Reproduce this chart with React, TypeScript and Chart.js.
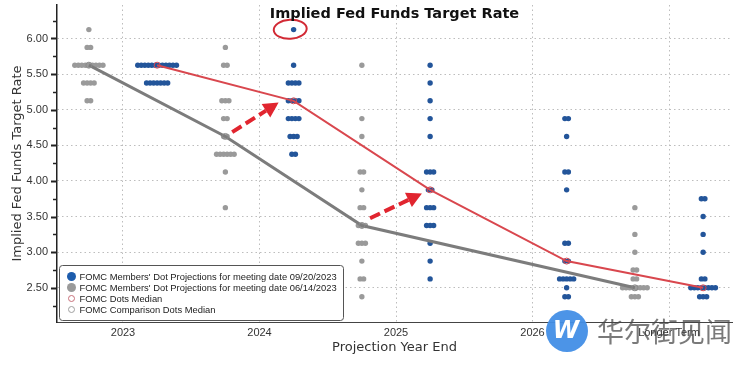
import React, { useEffect, useRef } from 'react';
import { Chart, registerables } from 'chart.js';

Chart.register(...registerables);

// ---------------- data ----------------
const TITLE = 'Implied Fed Funds Target Rate';
const Y_TITLE = 'Implied Fed Funds Target Rate';
const X_TITLE = 'Projection Year End';
const categories = ['2023', '2024', '2025', '2026', 'Longer Term'];
const yTickValues = [2.25, 2.5, 2.75, 3.0, 3.25, 3.5, 3.75, 4.0, 4.25, 4.5, 4.75, 5.0, 5.25, 5.5, 5.75, 6.0, 6.25];

// FOMC dots, meeting 09/20/2023 : [rate, number of participants]
const sep2023 = [[5.625, 12], [5.375, 7]];
const sep2024 = [[6.125, 1], [5.625, 1], [5.375, 4], [5.125, 4], [4.875, 4], [4.625, 3], [4.375, 2]];
const sep2025 = [[5.625, 1], [5.375, 1], [5.125, 1], [4.875, 1], [4.625, 1], [4.125, 3], [3.875, 2], [3.625, 3], [3.375, 3], [3.125, 1], [2.875, 1], [2.625, 1]];
const sep2026 = [[4.875, 2], [4.625, 1], [4.125, 2], [3.875, 1], [3.125, 2], [2.875, 2], [2.625, 5], [2.5, 1], [2.375, 2]];
const sepLonger = [[3.75, 2], [3.5, 1], [3.25, 1], [3.0, 1], [2.625, 2], [2.5, 8], [2.375, 3]];

// FOMC dots, meeting 06/14/2023
const jun2023 = [[6.125, 1], [5.875, 2], [5.625, 9], [5.375, 4], [5.125, 2]];
const jun2024 = [[5.875, 1], [5.625, 2], [5.125, 3], [4.875, 2], [4.625, 2], [4.375, 6], [4.125, 1], [3.625, 1]];
const jun2025 = [[5.625, 1], [4.875, 1], [4.625, 1], [4.125, 2], [3.875, 1], [3.625, 2], [3.375, 3], [3.125, 3], [2.875, 1], [2.625, 2], [2.375, 1]];
const jun2026: number[][] = [];
const junLonger = [[3.625, 1], [3.25, 1], [3.0, 1], [2.75, 2], [2.625, 2], [2.5, 8], [2.375, 3]];

const sepMedians = [5.625, 5.125, 3.875, 2.875, 2.5];
const junMedians = [5.625, 4.625, 3.375, null, 2.5];

// annotations drawn on the picture (data units): [x0, y0, x1, y1]
const arrowAnnotations = [
  [0.8, 4.685, 1.14, 5.1],
  [1.81, 3.476, 2.19, 3.825],
];
const circledDot = [1.225, 6.13];

const legendLabels = [
  "FOMC Members' Dot Projections for meeting date 09/20/2023",
  "FOMC Members' Dot Projections for meeting date 06/14/2023",
  'FOMC Dots Median',
  'FOMC Comparison Dots Median',
];
const WATERMARK = '华尔街见闻';

// ---------------- styles ----------------
const BLUE = '#23559a';
const GRAY_DOT = '#9a9a9a';
const RED = '#d9474e';
const GRAY_LINE = '#7c7c7c';
const GRID = '#bdbdbd';
const SHIFT = 0.25;
const DOT_STEP = 0.0258;

const sepGroups = [sep2023, sep2024, sep2025, sep2026, sepLonger];
const junGroups = [jun2023, jun2024, jun2025, jun2026, junLonger];

function dotPoints(groups: number[][][], shift: number) {
  const pts: { x: number; y: number }[] = [];
  groups.forEach((g, i) => {
    g.forEach(([rate, n]) => {
      for (let j = 0; j < n; j++) {
        pts.push({ x: i + shift + (j - (n - 1) / 2) * DOT_STEP, y: rate });
      }
    });
  });
  return pts;
}

function medianPoints(meds: (number | null)[], shift: number) {
  const pts: { x: number; y: number }[] = [];
  meds.forEach((v, i) => {
    if (v !== null) pts.push({ x: i + shift, y: v });
  });
  return pts;
}

const isMajor = (v: number) => Math.abs(v * 2 - Math.round(v * 2)) < 1e-6;

const yTickMarksPlugin = {
  id: 'yTickMarks',
  afterDraw(chart: any) {
    const { ctx, chartArea } = chart;
    const ys = chart.scales.y;
    ctx.save();
    ctx.strokeStyle = '#222';
    yTickValues.forEach((v) => {
      const y = Math.round(ys.getPixelForValue(v)) + 0.5;
      const major = isMajor(v);
      const len = major ? 6 : 4;
      ctx.lineWidth = major ? 2 : 1.5;
      ctx.beginPath();
      ctx.moveTo(chartArea.left - len, y);
      ctx.lineTo(chartArea.left, y);
      ctx.stroke();
    });
    ctx.restore();
  },
};

const annotationPlugin = {
  id: 'annotations',
  afterDatasetsDraw(chart: any) {
    const { ctx } = chart;
    const xs = chart.scales.x;
    const ys = chart.scales.y;
    ctx.save();
    ctx.strokeStyle = '#e1252f';
    ctx.fillStyle = '#e1252f';
    arrowAnnotations.forEach((a) => {
      const x0 = xs.getPixelForValue(a[0]);
      const y0 = ys.getPixelForValue(a[1]);
      const x1 = xs.getPixelForValue(a[2]);
      const y1 = ys.getPixelForValue(a[3]);
      const ang = Math.atan2(y1 - y0, x1 - x0);
      const headLen = 15;
      const headW = 8;
      const bx = x1 - headLen * Math.cos(ang);
      const by = y1 - headLen * Math.sin(ang);
      ctx.lineWidth = 4;
      ctx.setLineDash([11, 5]);
      ctx.beginPath();
      ctx.moveTo(x0, y0);
      ctx.lineTo(bx, by);
      ctx.stroke();
      ctx.setLineDash([]);
      ctx.beginPath();
      ctx.moveTo(x1, y1);
      ctx.lineTo(bx - headW * Math.sin(ang), by + headW * Math.cos(ang));
      ctx.lineTo(bx + headW * Math.sin(ang), by - headW * Math.cos(ang));
      ctx.closePath();
      ctx.fill();
    });
    // circled dot
    const cx = xs.getPixelForValue(circledDot[0]);
    const cy = ys.getPixelForValue(circledDot[1]);
    ctx.strokeStyle = '#d22a35';
    ctx.lineWidth = 2;
    ctx.beginPath();
    ctx.ellipse(cx, cy, 16.5, 9.5, -0.06, 0, Math.PI * 2);
    ctx.stroke();
    ctx.restore();
  },
};

const titlePlugin = {
  id: 'customTitle',
  afterDraw(chart: any) {
    const { ctx, chartArea } = chart;
    ctx.save();
    ctx.font = 'bold 14.5px "DejaVu Sans"';
    ctx.fillStyle = '#111';
    ctx.textAlign = 'center';
    ctx.textBaseline = 'alphabetic';
    ctx.fillText(TITLE, (chartArea.left + chartArea.right) / 2, 17.5);
    ctx.restore();
  },
};

const legendPlugin = {
  id: 'customLegend',
  afterDraw(chart: any) {
    const { ctx, chartArea } = chart;
    const w = 284;
    const h = 55;
    const x = chartArea.left + 2.5;
    const y = chartArea.bottom - h - 1.5;
    ctx.save();
    ctx.beginPath();
    ctx.roundRect(x, y, w, h, 3);
    ctx.fillStyle = '#ffffff';
    ctx.fill();
    ctx.strokeStyle = '#555';
    ctx.lineWidth = 1;
    ctx.stroke();
    ctx.font = '9.4px "Liberation Sans"';
    ctx.textAlign = 'left';
    ctx.textBaseline = 'middle';
    legendLabels.forEach((label, k) => {
      const cy = y + 11 + k * 11;
      const mx = x + 12;
      ctx.beginPath();
      if (k < 2) {
        ctx.arc(mx, cy, 4.5, 0, Math.PI * 2);
        ctx.fillStyle = k === 0 ? '#1d5cac' : GRAY_DOT;
        ctx.fill();
      } else {
        ctx.arc(mx, cy, 3, 0, Math.PI * 2);
        ctx.strokeStyle = k === 2 ? '#c8707a' : '#a0a0a0';
        ctx.lineWidth = 1;
        ctx.stroke();
      }
      ctx.fillStyle = '#222';
      ctx.fillText(label, x + 20, cy + 0.5);
    });
    ctx.restore();
  },
};

const watermarkPlugin = {
  id: 'watermark',
  afterDraw(chart: any) {
    const { ctx } = chart;
    ctx.save();
    ctx.beginPath();
    ctx.arc(567, 331, 21, 0, Math.PI * 2);
    ctx.fillStyle = 'rgba(66,142,230,0.95)';
    ctx.fill();
    ctx.fillStyle = '#ffffff';
    ctx.font = 'bold italic 24px "DejaVu Sans"';
    ctx.textAlign = 'center';
    ctx.textBaseline = 'middle';
    ctx.fillText('W', 566, 332);
    ctx.font = '27px "Noto Sans CJK SC"';
    ctx.textAlign = 'left';
    ctx.fillStyle = 'rgba(70,70,70,0.72)';
    ctx.fillText(WATERMARK, 597, 332);
    ctx.restore();
  },
};

export default function App() {
  const canvasRef = useRef<HTMLCanvasElement | null>(null);

  useEffect(() => {
    if (!canvasRef.current) return;
    const chart = new Chart(canvasRef.current, {
      type: 'scatter',
      data: {
        datasets: [
          {
            type: 'line',
            label: legendLabels[2],
            data: medianPoints(sepMedians, SHIFT),
            borderColor: RED,
            borderWidth: 2,
            pointRadius: 3,
            pointBorderWidth: 1,
            pointBorderColor: RED,
            pointBackgroundColor: 'rgba(0,0,0,0)',
            showLine: true,
            order: 0,
          } as any,
          {
            type: 'line',
            label: legendLabels[3],
            data: medianPoints(junMedians, -SHIFT),
            borderColor: GRAY_LINE,
            borderWidth: 3,
            pointRadius: 3,
            pointBorderWidth: 1,
            pointBorderColor: '#8a8a8a',
            pointBackgroundColor: 'rgba(0,0,0,0)',
            showLine: true,
            order: 1,
          } as any,
          {
            label: legendLabels[0],
            data: dotPoints(sepGroups, SHIFT),
            backgroundColor: BLUE,
            borderWidth: 0,
            pointRadius: 2.7,
            order: 2,
          },
          {
            label: legendLabels[1],
            data: dotPoints(junGroups, -SHIFT),
            backgroundColor: GRAY_DOT,
            borderWidth: 0,
            pointRadius: 2.7,
            order: 3,
          },
        ],
      },
      options: {
        animation: false,
        responsive: false,
        layout: { padding: { left: 0, right: 8, top: 0, bottom: 0 } },
        plugins: {
          legend: { display: false },
          tooltip: { enabled: false },
          title: { display: false },
        },
        scales: {
          x: {
            type: 'linear',
            min: -0.4835,
            max: 4.4615,
            afterBuildTicks: (scale: any) => {
              scale.ticks = categories.map((_, i) => ({ value: i }));
            },
            afterFit: (scale: any) => {
              scale.height = 45;
              scale.paddingLeft = 0;
              scale.paddingRight = 0;
            },
            ticks: {
              autoSkip: false,
              maxRotation: 0,
              padding: 4,
              color: '#333',
              font: { family: 'Liberation Sans', size: 11 },
              callback: (v: any) => categories[Math.round(Number(v))] ?? '',
            },
            grid: { color: GRID, drawTicks: false, lineWidth: 1 },
            border: { display: true, color: '#444', width: 1, dash: [1.5, 3] },
            title: {
              display: true,
              text: X_TITLE,
              color: '#333',
              font: { family: 'DejaVu Sans', size: 13 },
              padding: { top: 0, bottom: 12 },
            },
          },
          y: {
            type: 'linear',
            min: 2.02,
            max: 6.47,
            afterBuildTicks: (scale: any) => {
              scale.ticks = yTickValues.map((v) => ({ value: v }));
            },
            afterFit: (scale: any) => {
              scale.width = 57;
              scale.paddingTop = 0;
              scale.paddingBottom = 0;
            },
            ticks: {
              padding: 9,
              color: '#333',
              font: { family: 'Liberation Sans', size: 11 },
              callback: (v: any) => (isMajor(Number(v)) ? Number(v).toFixed(2) : ''),
            },
            grid: {
              drawTicks: false,
              lineWidth: 1,
              color: (ctx: any) => (ctx.tick && isMajor(ctx.tick.value) ? GRID : 'rgba(0,0,0,0)'),
            },
            border: { display: true, color: '#222', width: 1.5, dash: [1.5, 3] },
            title: {
              display: true,
              text: Y_TITLE,
              color: '#333',
              font: { family: 'DejaVu Sans', size: 13 },
              padding: { top: 10, bottom: 0 },
            },
          },
        },
      },
      plugins: [yTickMarksPlugin, annotationPlugin, titlePlugin, legendPlugin, watermarkPlugin],
    } as any);
    return () => chart.destroy();
  }, []);

  return (
    <div style={{ position: 'absolute', left: 0, top: 0, width: 740, height: 367, background: '#fff' }}>
      <canvas ref={canvasRef} width={740} height={367} />
    </div>
  );
}
